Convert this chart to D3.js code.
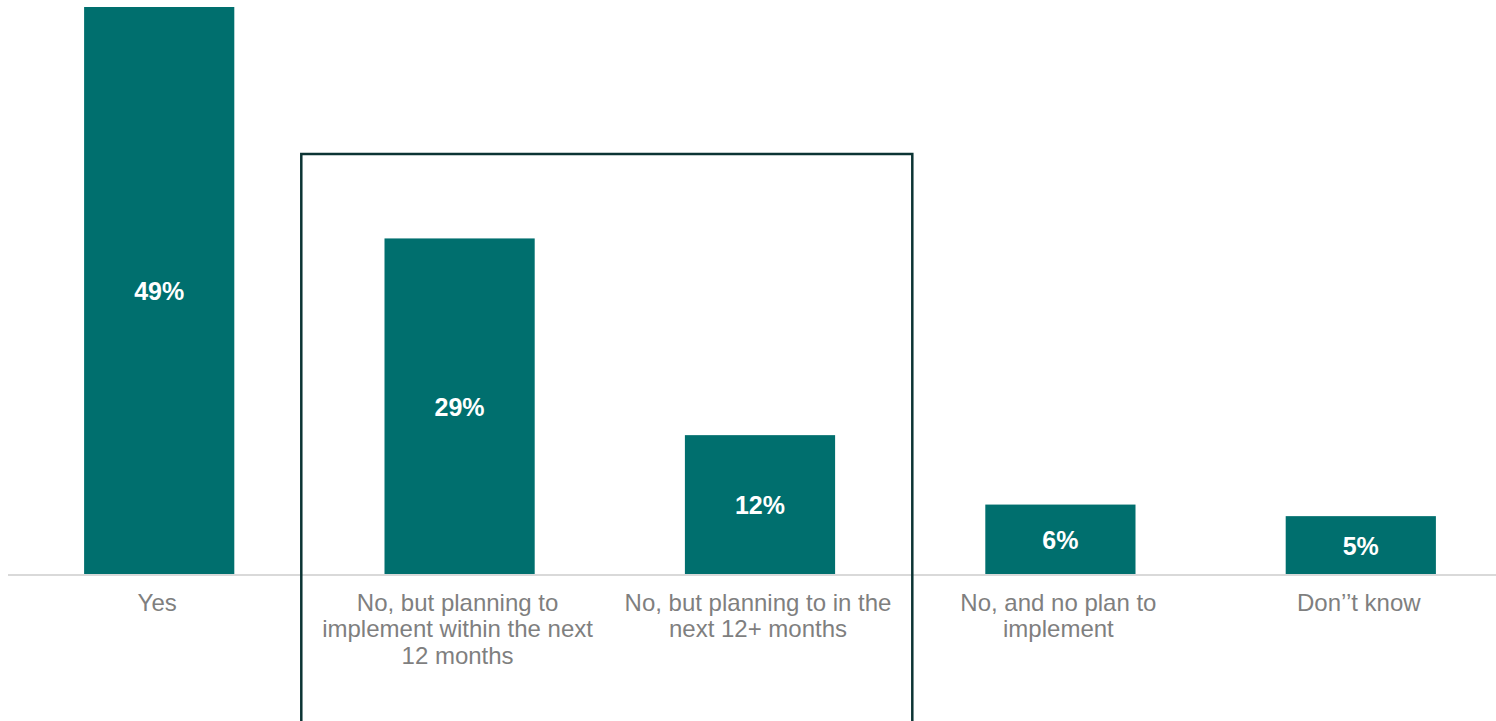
<!DOCTYPE html>
<html>
<head>
<meta charset="utf-8">
<script src="https://cdnjs.cloudflare.com/ajax/libs/d3/7.8.5/d3.min.js"></script>
<style>
  html, body { margin: 0; padding: 0; background: #fff; }
  svg { display: block; }
</style>
</head>
<body>
<svg id="chart" width="1496" height="721"></svg>
<script>
var categories = [
  ["Yes"],
  ["No, but planning to", "implement within the next", "12 months"],
  ["No, but planning to in the", "next 12+ months"],
  ["No, and no plan to", "implement"],
  ["Don\u2019\u2019t know"]
];
var values = [49, 29, 12, 6, 5];
var valueLabels = ["49%", "29%", "12%", "6%", "5%"];
// the framed group: categories 2 and 3
var framed = [1, 2];

var svg = d3.select("#chart"),
    width = +svg.attr("width"),
    height = +svg.attr("height");

var baseY = 574;

var x = d3.scaleBand()
    .domain(d3.range(values.length))
    .range([9, 1511])
    .paddingInner(0.5)
    .paddingOuter(0.25);

var y = d3.scaleLinear()
    .domain([0, 49])
    .range([baseY, 7]);

var barColor = "#006f6e";

// bars
svg.append("g").selectAll("rect")
    .data(values)
    .join("rect")
    .attr("x", function(d, i) { return x(i); })
    .attr("y", function(d) { return y(d); })
    .attr("width", x.bandwidth())
    .attr("height", function(d) { return y(0) - y(d); })
    .attr("fill", barColor);

// axis line
svg.append("line")
    .attr("x1", 8)
    .attr("x2", width)
    .attr("y1", baseY + 1)
    .attr("y2", baseY + 1)
    .attr("stroke", "#d9d9d9")
    .attr("stroke-width", 2);

// value labels
svg.append("g").selectAll("text")
    .data(values)
    .join("text")
    .attr("x", function(d, i) { return x(i) + x.bandwidth() / 2; })
    .attr("y", function(d) { return (y(d) + y(0)) / 2; })
    .attr("dy", "0.38em")
    .attr("font-family", "Liberation Sans, Arial, sans-serif")
    .attr("text-anchor", "middle")
    .attr("font-weight", "bold")
    .attr("font-size", "25px")
    .attr("fill", "#ffffff")
    .text(function(d, i) { return valueLabels[i]; });

// category labels
var cat = svg.append("g").selectAll("text")
    .data(categories)
    .join("text")
    .attr("text-anchor", "middle")
    .attr("font-family", "Liberation Sans, Arial, sans-serif")
    .attr("font-size", "24px")
    .attr("fill", "#7f7f7f");

cat.selectAll("tspan")
    .data(function(d, i) { return d.map(function(s) { return { s: s, i: i }; }); })
    .join("tspan")
    .attr("x", function(d) { return x(d.i) + x.bandwidth() / 2 - 2; })
    .attr("y", function(d, j) { return baseY + 36.5 + j * 26.7; })
    .text(function(d) { return d.s; });

// frame around the "planning" categories
var step = x.step();
var fx0 = x(framed[0]) + x.bandwidth() / 2 - step * 0.527;
var fx1 = x(framed[framed.length - 1]) + x.bandwidth() / 2 + step * 0.507;
svg.append("path")
    .attr("d", "M" + fx0 + "," + (height + 5) + "V154H" + fx1 + "V" + (height + 5))
    .attr("fill", "none")
    .attr("stroke", "#0c3434")
    .attr("stroke-width", 2.5);
</script>
</body>
</html>
